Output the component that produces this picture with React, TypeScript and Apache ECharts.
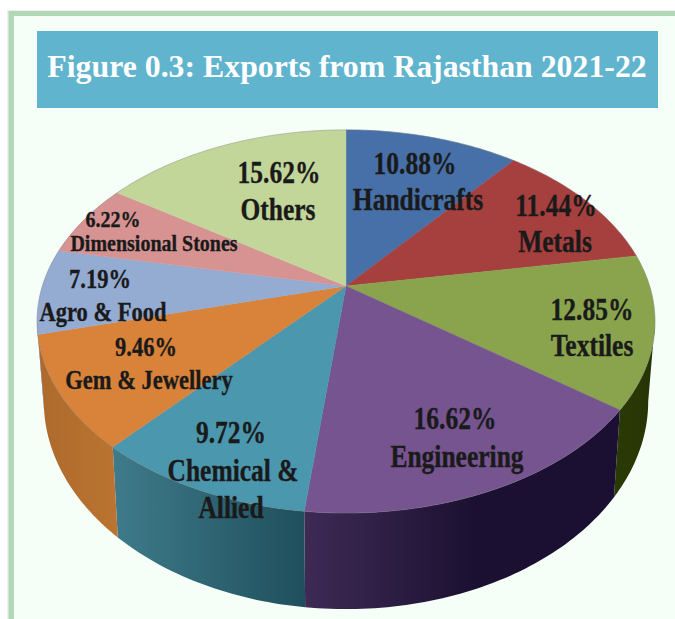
import React, { useEffect, useRef } from "react";
import * as echarts from "echarts";

// Export shares by sector, clockwise from twelve o'clock.
const categories = [
  "Handicrafts",
  "Metals",
  "Textiles",
  "Engineering",
  "Chemical & Allied",
  "Gem & Jewellery",
  "Agro & Food",
  "Dimensional Stones",
  "Others",
];
const shares = [10.88, 11.44, 12.85, 16.62, 9.72, 9.46, 7.19, 6.22, 15.62];

const faceColors = ["#4770A8", "#A5403F", "#89A44D", "#75548F", "#4A97AE", "#D9823A", "#94ABD2", "#D69392", "#C2D69A"];
const wallFrom = ["#33527c", "#7a2f2f", "#2a3a05", "#3e2a55", "#3f7b8b", "#ad6a2c", "#8093b4", "#a56f6e", "#8fa271"];
const wallTo = ["#33527c", "#7a2f2f", "#263404", "#1b1031", "#1f4f5c", "#bb7431", "#8093b4", "#a56f6e", "#8fa271"];
// Fraction of each wall's width over which its shade settles on the end colour.
const wallFade = [1, 1, 1, 0.55, 1, 1, 1, 1, 1];

// Text lines under each percentage, with a centre point for every line.
const labelLines: string[][] = [
  ["Handicrafts"],
  ["Metals"],
  ["Textiles"],
  ["Engineering"],
  ["Chemical &", "Allied"],
  ["Gem & Jewellery"],
  ["Agro & Food"],
  ["Dimensional Stones"],
  ["Others"],
];
const labelAnchors: number[][][] = [
  [[415, 164], [418, 200]],
  [[556, 206], [555, 242]],
  [[592, 310], [592, 346]],
  [[455, 419], [457, 457]],
  [[231, 433], [233, 471], [231, 508]],
  [[146, 347], [149, 380]],
  [[100, 279], [103, 312]],
  [[113, 219], [154, 243]],
  [[279, 173], [278, 210]],
];
const labelFontSizes = [25.5, 25.5, 25.5, 25.5, 25.5, 22.5, 22.5, 20, 25.5];

const SERIF = '"Liberation Serif", "Times New Roman", serif';

// Perspective projection of the pie's circular top and base onto the page.
const PERSPECTIVE = 0.185;
const CENTER_X = 346;
const topPlane = { a: 303.6, b: 185, y0: 286 };
const basePlane = { a: 297, b: 201, y0: 362.5 };

// Arc of the rim that faces the viewer, in degrees clockwise from the top.
const NEAR_START = 100.7;
const NEAR_END = 259.3;

function project(plane: { a: number; b: number; y0: number }, deg: number): number[] {
  const t = (deg * Math.PI) / 180;
  const u = Math.sin(t);
  const v = Math.cos(t);
  const d = 1 + PERSPECTIVE * v;
  return [CENTER_X + (plane.a * u) / d, plane.y0 - (plane.b * v) / d];
}

function arcPoints(plane: { a: number; b: number; y0: number }, from: number, to: number): number[][] {
  const steps = Math.max(2, Math.ceil(Math.abs(to - from)));
  const pts: number[][] = [];
  for (let i = 0; i <= steps; i++) pts.push(project(plane, from + ((to - from) * i) / steps));
  return pts;
}

const totalShare = shares.reduce((s, v) => s + v, 0);
const cumulative = shares.reduce<number[]>((acc, v) => [...acc, acc[acc.length - 1] + v], [0]);
const angleAt = (i: number) => (cumulative[i] / totalShare) * 360;

const seriesData = categories.map((name, i) => ({ name, value: [shares[i]] }));

const renderWall = (params: any) => {
  const i = params.dataIndex;
  const from = Math.max(angleAt(i), NEAR_START);
  const to = Math.min(angleAt(i + 1), NEAR_END);
  if (to <= from) return { type: "group", children: [] };
  const points = [...arcPoints(topPlane, from, to), ...arcPoints(basePlane, to, from)];
  // The arc runs right to left across the front, so the shade starts at the wall's left edge.
  return {
    type: "polygon",
    shape: { points },
    style: {
      fill: new echarts.graphic.LinearGradient(0, 0, 1, 0, [
        { offset: 0, color: wallFrom[i] },
        { offset: wallFade[i], color: wallTo[i] },
        { offset: 1, color: wallTo[i] },
      ]),
      stroke: "none",
    },
  };
};

const renderFace = (params: any) => {
  const i = params.dataIndex;
  const from = angleAt(i);
  const to = angleAt(i + 1);
  const rim = arcPoints(topPlane, from, to);
  return {
    type: "group",
    children: [
      {
        type: "polygon",
        shape: { points: [[CENTER_X, topPlane.y0], ...rim] },
        style: { fill: faceColors[i], stroke: faceColors[i], lineWidth: 0.4 },
      },
      {
        type: "polyline",
        shape: { points: rim },
        style: { fill: "none", stroke: "rgba(120,120,120,0.35)", lineWidth: 1 },
      },
    ],
  };
};

const renderLabel = (params: any, api: any) => {
  const i = params.dataIndex;
  const lines = [`${api.value(0).toFixed(2)}%`, ...labelLines[i]];
  return {
    type: "group",
    children: lines.map((text, k) => ({
      type: "text",
      x: labelAnchors[i][k][0],
      y: labelAnchors[i][k][1],
      scaleY: 1.2,
      style: {
        text,
        fontFamily: SERIF,
        fontWeight: "bold",
        fontSize: labelFontSizes[i],
        fill: "#1a1a1a",
        stroke: "#1a1a1a",
        lineWidth: 0.3,
        align: "center",
        verticalAlign: "middle",
      },
    })),
  };
};

export default function App() {
  const ref = useRef<HTMLDivElement>(null);

  useEffect(() => {
    const chart = echarts.init(ref.current!, undefined, { renderer: "svg" });
    chart.setOption({
      animation: false,
      backgroundColor: "#ffffff",
      title: {
        text: "Figure 0.3: Exports from Rajasthan 2021-22",
        left: 342,
        top: 45,
        textAlign: "center",
        textStyle: { fontFamily: SERIF, fontWeight: "bold", fontSize: 31.8, color: "#ffffff" },
      },
      graphic: [
        { type: "rect", z: -4, shape: { x: 7, y: 10, width: 668, height: 609 }, style: { fill: "#ECF1ED" } },
        { type: "rect", z: -3, shape: { x: 8.5, y: 11, width: 666.5, height: 608 }, style: { fill: "#B1D7B6" } },
        { type: "rect", z: -2, shape: { x: 14, y: 16, width: 661, height: 603 }, style: { fill: "#F6FEF8" } },
        { type: "rect", z: -1, shape: { x: 37, y: 31, width: 621, height: 77 }, style: { fill: "#60B4CE" } },
      ],
      series: [
        { type: "custom", coordinateSystem: "none", z: 2, data: seriesData, renderItem: renderWall, silent: true },
        { type: "custom", coordinateSystem: "none", z: 3, data: seriesData, renderItem: renderFace, silent: true },
        { type: "custom", coordinateSystem: "none", z: 4, data: seriesData, renderItem: renderLabel, silent: true },
      ],
    });
    return () => chart.dispose();
  }, []);

  return <div ref={ref} style={{ position: "fixed", left: 0, top: 0, width: 675, height: 619 }} />;
}
